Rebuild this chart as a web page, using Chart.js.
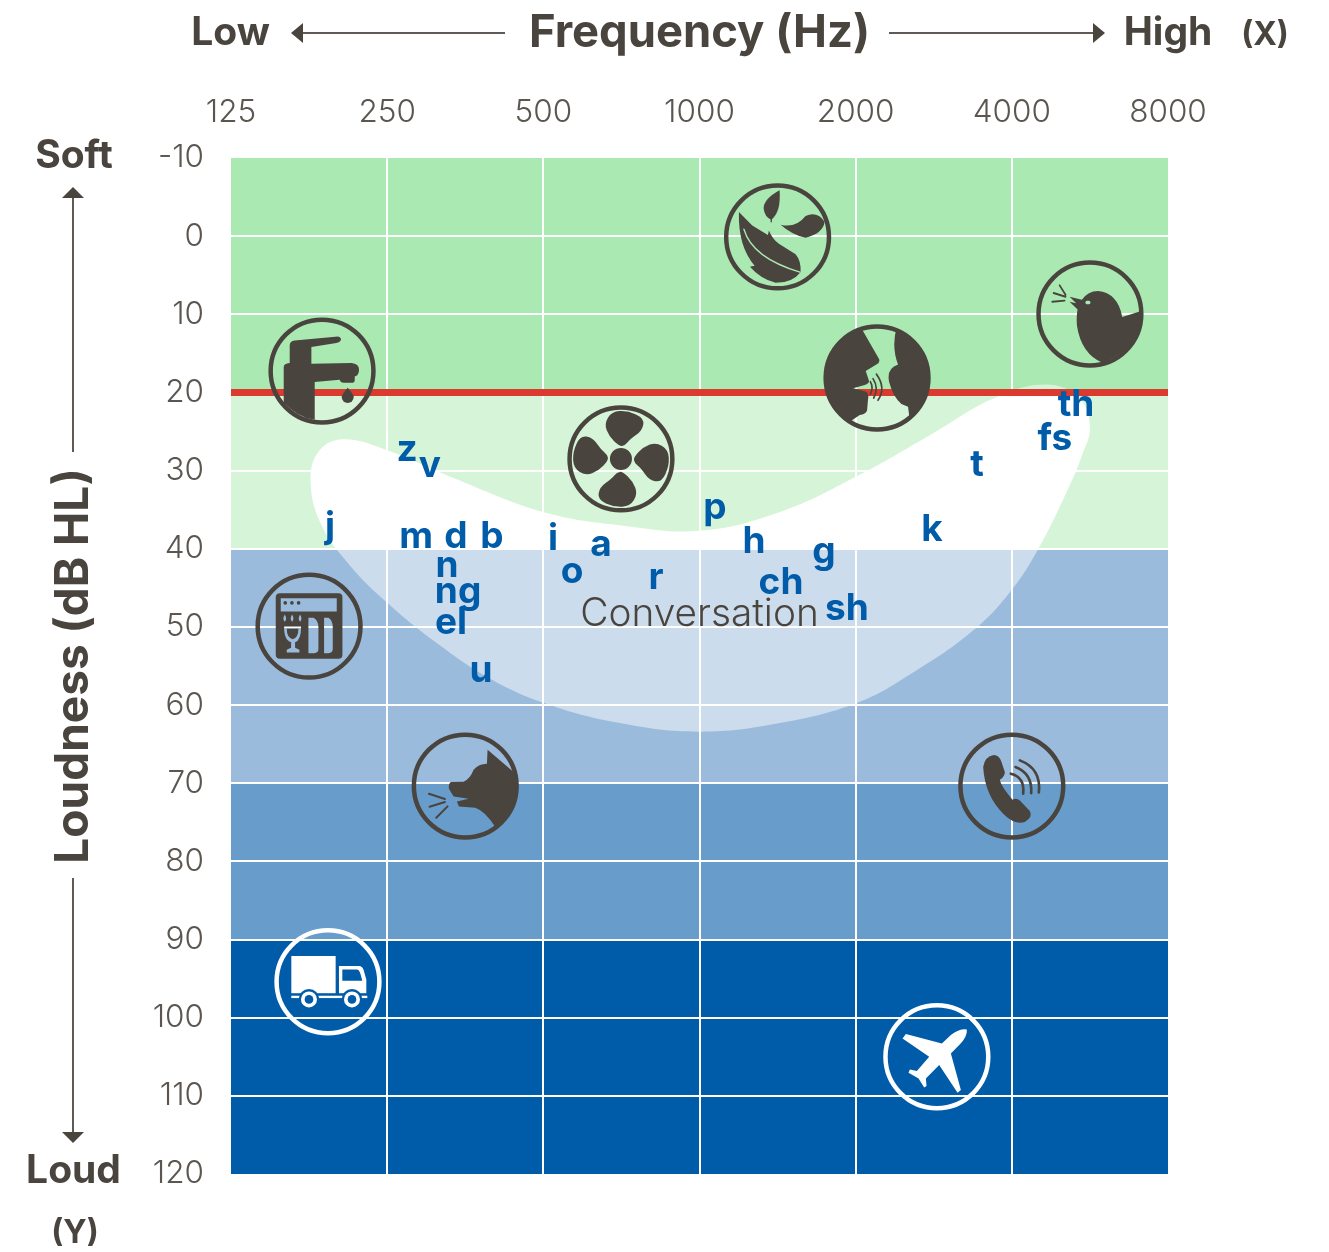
<!DOCTYPE html>
<html><head><meta charset="utf-8">
<style>html,body{margin:0;padding:0;background:#fff}canvas{display:block}</style>
<script src="https://cdn.jsdelivr.net/npm/chart.js@4"></script>
</head><body><canvas id="c" width="1329" height="1252"></canvas>
<script>
// ---- data (x = octave step on the frequency axis, y = dB HL) ----
const freqLabels = ['125','250','500','1000','2000','4000','8000'];
const bandStart = [-10, 20, 40, 70, 90];
const bandEnd   = [20, 40, 70, 90, 120];
const bandColors = ['#abe9b3','#d6f4d7','#9abbdc','#689dcb','#005ca8'];
const normalLimit = 20;
const bananaX = [5.45,5.366,5.17,4.99,4.75,4.37,4.01,3.515,3,2.49,2,1.64,1.32,1,.76,.58,.51,.56,.717,1,1.42,2,2.49,3,3.515,4.01,4.48,4.9,5.24,5.44,5.5,5.45,5.366,5.17];
const bananaY = [28,32.1,40,45.5,50.5,55.8,59.7,62.3,63.4,62.3,59.7,56.4,52.1,46.9,42.1,37,31.6,27.6,26,27.4,30.9,35.3,37,37.7,35.3,30.7,25.4,20.6,19,20.9,24.5,28,32.1,40];
const letters = ['z','v','j','m','d','b','n','ng','el','u','i','a','o','r','p','h','g','ch','sh','k','t','fs','th'];
const letterX = [1.127,1.274,.634,1.185,1.441,1.671,1.383,1.454,1.409,1.601,2.062,2.369,2.184,2.721,3.099,3.349,3.797,3.522,3.944,4.489,4.777,5.276,5.411];
const letterY = [28.8,30.8,38.6,39.9,39.9,39.9,43.6,46.9,50.9,57.1,40.2,40.9,44.4,45.2,36.2,40.5,41.8,45.8,49.1,39,30.7,27.4,23];
const conversation = {text:'Conversation', x:3.0, y:49.9};
const iconNames = ['leaves','bird','faucet','speech','fan','dishwasher','dog','phone','truck','plane'];
const iconX = [3.5,5.5,.583,4.137,2.497,.5,1.5,5,.621,4.52];
const iconY = [.1,9.96,17.26,18.15,28.5,49.9,70.36,70.36,95.4,105];

const DARK='#4a443e', TICK='#5b5650', BLUE='#005ca8', GREEN='#abe9b3', SANS='Inter, sans-serif';

// ---- icon artwork, in local drawing units around each icon centre ----
const fanBlade=[[-5,-38],[-36,-68],[-50,-105],[-28,-142],[20,-145],[70,-122],[64,-85],[28,-60],[12,-40]];
const ICONS={
 faucet:{c:[307,212],sx:3,sy:3,color:DARK,fill:[
  'M192 200Q192 190 210 188L210 135Q210 122 225 120L355 108Q368 112 362 122Q358 127 350 128L275 140L275 190L395 188Q418 190 418 208Q418 225 405 228L405 240Q405 247 395 247L372 247Q362 247 360 238L285 245L285 358Q235 352 192 306Z',
  'M384 262Q402 282 402 290A18 18 0 1 1 366 290Q366 282 384 262Z']},
 fan:{c:[1204,475],sx:3,sy:3,color:DARK,custom:'fan'},
 dishwasher:{c:[267,977],sx:3,sy:3,color:DARK,evenodd:[
  'M180 878L355 878Q367 878 367 890L367 1063Q367 1075 355 1075L180 1075Q167 1075 167 1063L167 890Q167 878 180 878Z'+
  'M182 893L350 893L350 933L182 933Z'+
  'M265 952L280 952Q295 960 295 980L295 1045Q295 1058 282 1058L265 1058Z'+
  'M312 952L325 952Q338 960 338 980L338 1045Q338 1058 325 1058L312 1058Z'+
  'M192 978L243 978Q243 1020 225 1025L225 1042L238 1048L238 1056L200 1056L200 1048L213 1042L213 1025Q192 1020 192 978Z'+
  'M200 985L235 985Q235 1012 218 1016Q200 1012 200 985Z'+
  'M194 942Q202 956 194 964Q186 956 194 942Z M216 942Q224 956 216 964Q208 956 216 942Z M240 942Q248 956 240 964Q232 956 240 942Z'],
  fill:['M190 907a5.5 5.5 0 1 0 11 0a5.5 5.5 0 1 0 -11 0ZM210 907a5.5 5.5 0 1 0 11 0a5.5 5.5 0 1 0 -11 0ZM230 907a5.5 5.5 0 1 0 11 0a5.5 5.5 0 1 0 -11 0Z']},
 dog:{c:[675,197],sx:3,sy:3,color:DARK,fill:[
  'M742 88L740 130Q715 130 700 148Q690 175 670 184L632 185Q624 190 626 205L640 228L685 235L650 243L656 258L705 262Q735 272 765 320A160 160 0 0 0 820 155Z'],
  stroke:[['M566 220L614 236M568 259L614 245M588 292L622 258',6]]},
 phone:{c:[426,197],sx:3,sy:3,color:DARK,fill:[
  'M340 140Q345 108 372 104Q388 104 395 125L405 155Q405 170 390 178Q392 195 428 238Q440 232 450 240L480 272Q490 290 465 305Q435 315 400 280Q345 225 340 140Z'],
  stroke:[['M423 160Q465 170 460 220M437 140Q488 160 484 218M450 120Q515 145 507 216',8]]},
 leaves:{c:[291,200],sx:3,sy:2.614,color:DARK,fill:[
  'M175 135L215 170L262 195L265 183Q275 205 295 218L345 245Q362 262 360 292Q335 320 285 320Q240 310 208 278L222 275Q172 225 175 135Z',
  'M297 78Q250 100 249 125Q252 148 272 155Q302 135 297 78Z',
  'M300 168Q345 178 375 145Q410 132 432 160Q428 190 375 202Q335 195 300 168Z'],
  strokeBg:[['M190 180Q215 255 358 292',4,GREEN]],stroke:[['M272 150L272 160',4]]},
 bird:{c:[1231,400],sx:3,sy:2.614,color:DARK,fill:[
  'M1170 355L1207 363Q1225 340 1255 340Q1315 345 1328 408L1385 392Q1395 480 1270 528Q1205 505 1192 430Q1190 405 1194 388L1170 368L1190 372Z'],
  strokeBg:[['M1222 370L1228 370',9,GREEN]],stroke:[['M1140 325L1158 350M1122 345L1158 355M1118 368L1155 365',5]]},
 speech:{c:[592,570],sx:3,sy:2.614,color:DARK,clipCircle:true,fill:[
  'M545 440L598 520Q602 530 590 535L558 552L568 578Q568 585 555 588L520 597L560 606Q568 612 565 625L562 655Q558 665 540 667L500 690L420 640L420 500Z',
  'M650 440Q635 490 655 535Q620 545 628 580Q640 620 665 638L685 645L690 680L780 600L780 480Z'],
  stroke:[['M572 580Q582 596 572 612M580 572Q598 596 582 622M590 560Q620 596 595 628',5]]},
 truck:{c:[265,785],sx:3,sy:3,color:'#fff',custom:'truck'},
 plane:{c:[203,1010],sx:3,sy:3,color:'#fff',fill:[
  'M293 928Q295 950 270 975L245 1000L275 1110L265 1118L210 1035L170 1075L172 1098L165 1102L148 1075L118 1058L122 1048L143 1053L180 1010L100 955L110 942L218 970L245 945Q270 925 293 928Z']}
};

function smoothBlade(ctx,pts){
  const n=pts.length;
  let mx=(pts[n-1][0]+pts[0][0])/2,my=(pts[n-1][1]+pts[0][1])/2;
  ctx.moveTo(mx,my);
  for(let i=0;i<n;i++){const p=pts[i],q=pts[(i+1)%n];ctx.quadraticCurveTo(p[0],p[1],(p[0]+q[0])/2,(p[1]+q[1])/2);}
  ctx.closePath();
}
function drawIcon(ctx,name,px,py){
  const ic=ICONS[name];
  ctx.save();ctx.translate(px,py);
  // ring
  ctx.strokeStyle=ic.color;ctx.lineWidth=4.5;ctx.beginPath();ctx.arc(0,0,51.4,0,Math.PI*2);ctx.stroke();
  if(ic.clipCircle){ctx.beginPath();ctx.arc(0,0,52,0,Math.PI*2);ctx.clip();}
  ctx.scale(1/ic.sx,1/ic.sy);ctx.translate(-ic.c[0],-ic.c[1]);
  ctx.fillStyle=ic.color;ctx.strokeStyle=ic.color;ctx.lineCap='round';
  (ic.fill||[]).forEach(d=>ctx.fill(new Path2D(d)));
  (ic.evenodd||[]).forEach(d=>ctx.fill(new Path2D(d),'evenodd'));
  (ic.strokeBg||[]).forEach(([d,w,col])=>{ctx.save();ctx.strokeStyle=col;ctx.lineWidth=w;ctx.stroke(new Path2D(d));ctx.restore();});
  (ic.stroke||[]).forEach(([d,w])=>{ctx.lineWidth=w;ctx.stroke(new Path2D(d));});
  if(ic.custom==='fan'){
    ctx.translate(ic.c[0],ic.c[1]);
    for(let k=0;k<4;k++){ctx.save();ctx.rotate(k*Math.PI/2);ctx.beginPath();smoothBlade(ctx,fanBlade);ctx.fill();ctx.restore();}
    ctx.beginPath();ctx.arc(0,0,33,0,Math.PI*2);ctx.fill();
  }
  if(ic.custom==='truck'){
    ctx.fill(new Path2D('M155 708L288 708L288 820L155 820Z'));
    ctx.fill(new Path2D('M298 738L358 738Q368 738 372 750L380 778L380 820L298 820ZM308 748L352 748Q358 748 362 760L368 782L308 782Z'),'evenodd');
    ctx.fillStyle=BLUE;ctx.fillRect(150,820,240,7);
    ctx.fillStyle='#fff';ctx.fillRect(155,827,228,7);
    [208,337].forEach(x=>{
      ctx.fillStyle=BLUE;ctx.beginPath();ctx.arc(x,838,31,0,Math.PI*2);ctx.fill();
      ctx.fillStyle='#fff';ctx.beginPath();ctx.arc(x,838,24,0,Math.PI*2);ctx.fill();
      ctx.fillStyle=BLUE;ctx.beginPath();ctx.arc(x,838,13,0,Math.PI*2);ctx.fill();
    });
  }
  ctx.restore();
}

// ---- outer labels and arrows ----
const sideLabels=[
 {t:'Low',x:230.5,y:45,s:39},{t:'High',x:1168,y:45,s:39},{t:'(X)',x:1265,y:45,s:32},
 {t:'Soft',x:74,y:168,s:39},{t:'Loud',x:73.5,y:1183,s:39},{t:'(Y)',x:75,y:1243,s:32}
];
const arrows=[[505,33,291,33,'h'],[889,33,1105,33,'h'],[73,452,73,187,'v'],[73,878,73,1143,'v']];
function drawArrow(ctx,[x0,y0,x1,y1,kind]){
  const h=kind==='v'?11:12, w=kind==='v'?11:10;
  ctx.strokeStyle='#5f5a55';ctx.lineWidth=2;
  ctx.beginPath();ctx.moveTo(x0,y0);ctx.lineTo(x1-Math.sign(x1-x0)*h/2,y1-Math.sign(y1-y0)*h/2);ctx.stroke();
  ctx.fillStyle=DARK;ctx.beginPath();ctx.moveTo(x1,y1);
  if(kind==='v'){const d=Math.sign(y0-y1);ctx.lineTo(x1-w,y1+d*h);ctx.lineTo(x1+w,y1+d*h);}
  else{const d=Math.sign(x0-x1);ctx.lineTo(x1+d*h,y1-w);ctx.lineTo(x1+d*h,y1+w);}
  ctx.closePath();ctx.fill();
}

const decor={
 id:'decor',
 afterDraw(chart){
  const ctx=chart.ctx,{x,y}=chart.scales;
  // threshold line sits above the grid
  chart.data.datasets.forEach((d,i)=>{if(d.label==='threshold')chart.getDatasetMeta(i).controller.draw();});
  ctx.save();
  iconNames.forEach((n,i)=>drawIcon(ctx,n,x.getPixelForValue(iconX[i]),y.getPixelForValue(iconY[i])));
  ctx.textAlign='center';ctx.textBaseline='alphabetic';
  ctx.fillStyle=DARK;ctx.font='300 38.8px '+SANS;
  ctx.fillText(conversation.text,x.getPixelForValue(conversation.x),y.getPixelForValue(conversation.y));
  const meta=chart.data.datasets.findIndex(d=>d.label==='sounds');
  ctx.fillStyle=BLUE;ctx.font='700 37px '+SANS;
  chart.getDatasetMeta(meta).data.forEach((pt,i)=>ctx.fillText(letters[i],pt.x,pt.y));
  ctx.fillStyle=DARK;
  sideLabels.forEach(l=>{ctx.font='700 '+l.s+'px '+SANS;ctx.fillText(l.t,l.x,l.y);});
  arrows.forEach(a=>drawArrow(ctx,a));
  ctx.restore();
 }
};

function bananaFill(c){
  const {chart}=c,{y}=chart.scales;
  if(!y||!chart.chartArea)return 'rgba(255,255,255,.5)';
  const top=y.getPixelForValue(-10),bot=y.getPixelForValue(120);
  const g=chart.ctx.createLinearGradient(0,top,0,bot);
  const f=v=>(y.getPixelForValue(v)-top)/(bot-top);
  g.addColorStop(0,'rgba(255,255,255,.5)');g.addColorStop(f(bandStart[1]),'rgba(255,255,255,.5)');
  g.addColorStop(f(bandStart[1]),'#fff');g.addColorStop(f(bandStart[2]),'#fff');
  g.addColorStop(f(bandStart[2]),'rgba(255,255,255,.49)');g.addColorStop(1,'rgba(255,255,255,.49)');
  return g;
}

const xMax=freqLabels.length-1;
const datasets=[
 {label:'sounds',order:0,data:letters.map((_,i)=>({x:letterX[i],y:letterY[i]})),pointRadius:0,showLine:false},
 {label:'threshold',order:1,data:[{x:0,y:normalLimit},{x:xMax,y:normalLimit}],showLine:true,borderColor:'#dc3a2e',borderWidth:7,pointRadius:0,fill:false},
 {label:'speech banana',order:2,data:bananaX.map((v,i)=>({x:v,y:bananaY[i]})),showLine:true,tension:.4,borderWidth:0,pointRadius:0,fill:'shape',backgroundColor:bananaFill},
 ...bandStart.map((s,i)=>({label:'band'+i,order:3,data:[{x:0,y:bandEnd[i]},{x:xMax,y:bandEnd[i]}],showLine:true,borderWidth:0,pointRadius:0,fill:{value:s},backgroundColor:bandColors[i]}))
];
const innerGrid=c=>(c.tick&&(c.tick.value===c.scale.min||c.tick.value===c.scale.max))?0:2;

new Chart(document.getElementById('c'),{
 type:'scatter',
 data:{datasets},
 plugins:[decor],
 options:{
  responsive:false,animation:false,events:[],
  layout:{padding:{left:0,top:0,right:161,bottom:78}},
  plugins:{legend:{display:false},tooltip:{enabled:false},title:{display:false}},
  scales:{
   x:{type:'linear',position:'top',min:0,max:xMax,
      afterFit(s){s.height=158;},
      border:{display:false},
      grid:{color:'#fff',lineWidth:innerGrid,z:1,drawTicks:false},
      title:{display:true,text:'Frequency (Hz)',color:DARK,font:{family:SANS,size:45.4,weight:'700'},padding:{top:6,bottom:0}},
      ticks:{stepSize:1,autoSkip:false,maxRotation:0,minRotation:0,padding:27,color:TICK,font:{family:SANS,size:31.5,weight:'300'},callback:v=>freqLabels[v]}},
   y:{type:'linear',reverse:true,min:-10,max:120,
      afterFit(s){s.width=231;},
      border:{display:false},
      grid:{color:'#fff',lineWidth:innerGrid,z:1,drawTicks:false},
      title:{display:true,text:'Loudness (dB HL)',color:DARK,font:{family:SANS,size:46,weight:'700'},padding:{top:47,bottom:0}},
      ticks:{stepSize:10,autoSkip:false,padding:27,color:TICK,font:{family:SANS,size:31.5,weight:'300'}}}
  }
 }
});
</script></body></html>
